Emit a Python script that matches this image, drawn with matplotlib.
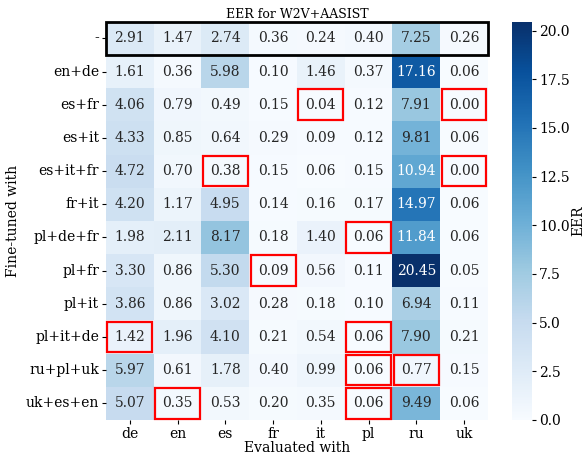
import matplotlib
matplotlib.use("Agg")
import matplotlib.pyplot as plt
from matplotlib.patches import Rectangle
import numpy as np
import seaborn as sns

plt.rcParams["font.family"] = "DejaVu Serif"

rows = ["-", "en+de", "es+fr", "es+it", "es+it+fr", "fr+it", "pl+de+fr",
        "pl+fr", "pl+it", "pl+it+de", "ru+pl+uk", "uk+es+en"]
cols = ["de", "en", "es", "fr", "it", "pl", "ru", "uk"]

eer = [
    [2.91, 1.47, 2.74, 0.36, 0.24, 0.40, 7.25, 0.26],
    [1.61, 0.36, 5.98, 0.10, 1.46, 0.37, 17.16, 0.06],
    [4.06, 0.79, 0.49, 0.15, 0.04, 0.12, 7.91, 0.00],
    [4.33, 0.85, 0.64, 0.29, 0.09, 0.12, 9.81, 0.06],
    [4.72, 0.70, 0.38, 0.15, 0.06, 0.15, 10.94, 0.00],
    [4.20, 1.17, 4.95, 0.14, 0.16, 0.17, 14.97, 0.06],
    [1.98, 2.11, 8.17, 0.18, 1.40, 0.06, 11.84, 0.06],
    [3.30, 0.86, 5.30, 0.09, 0.56, 0.11, 20.45, 0.05],
    [3.86, 0.86, 3.02, 0.28, 0.18, 0.10, 6.94, 0.11],
    [1.42, 1.96, 4.10, 0.21, 0.54, 0.06, 7.90, 0.21],
    [5.97, 0.61, 1.78, 0.40, 0.99, 0.06, 0.77, 0.15],
    [5.07, 0.35, 0.53, 0.20, 0.35, 0.06, 9.49, 0.06],
]

# (row, col) cells outlined in red
highlight = [(2, 4), (2, 7), (4, 2), (4, 7), (6, 5), (7, 3),
             (9, 0), (9, 5), (10, 5), (10, 6), (11, 1), (11, 5)]

fig = plt.figure(figsize=(5.84, 4.54), dpi=100)
ax = fig.add_axes([0.1815, 0.075, 0.654, 0.877])
cax = fig.add_axes([0.877, 0.075, 0.034, 0.877])

data = np.array(eer)
sns.heatmap(data, ax=ax, cbar_ax=cax, cmap="Blues", vmin=0, vmax=data.max(),
            annot=True, fmt=".2f", annot_kws={"size": 10},
            xticklabels=cols, yticklabels=rows)

ax.set_title("EER for W2V+AASIST", fontsize=9, pad=3)
ax.set_xlabel("Evaluated with", fontsize=10, labelpad=0)
ax.set_ylabel("Fine-tuned with", fontsize=10, labelpad=4)
ax.tick_params(axis="both", labelsize=10, length=3)
ax.tick_params(axis="y", rotation=0, pad=2)
ax.tick_params(axis="x", rotation=0, pad=2)

ax.add_patch(Rectangle((0, 0), len(cols), 1, fill=False, edgecolor="black",
                       lw=2, clip_on=False))
for r, c in highlight:
    ax.add_patch(Rectangle((c + 0.03, r + 0.04), 0.94, 0.92, fill=False,
                           edgecolor="red", lw=1.6, clip_on=False))

cax.tick_params(labelsize=10, length=3, pad=2)
cax.set_yticks(np.arange(0, 20.1, 2.5))
cax.set_ylabel("EER", fontsize=10, labelpad=1)

fig.savefig("out.png", dpi=100)
